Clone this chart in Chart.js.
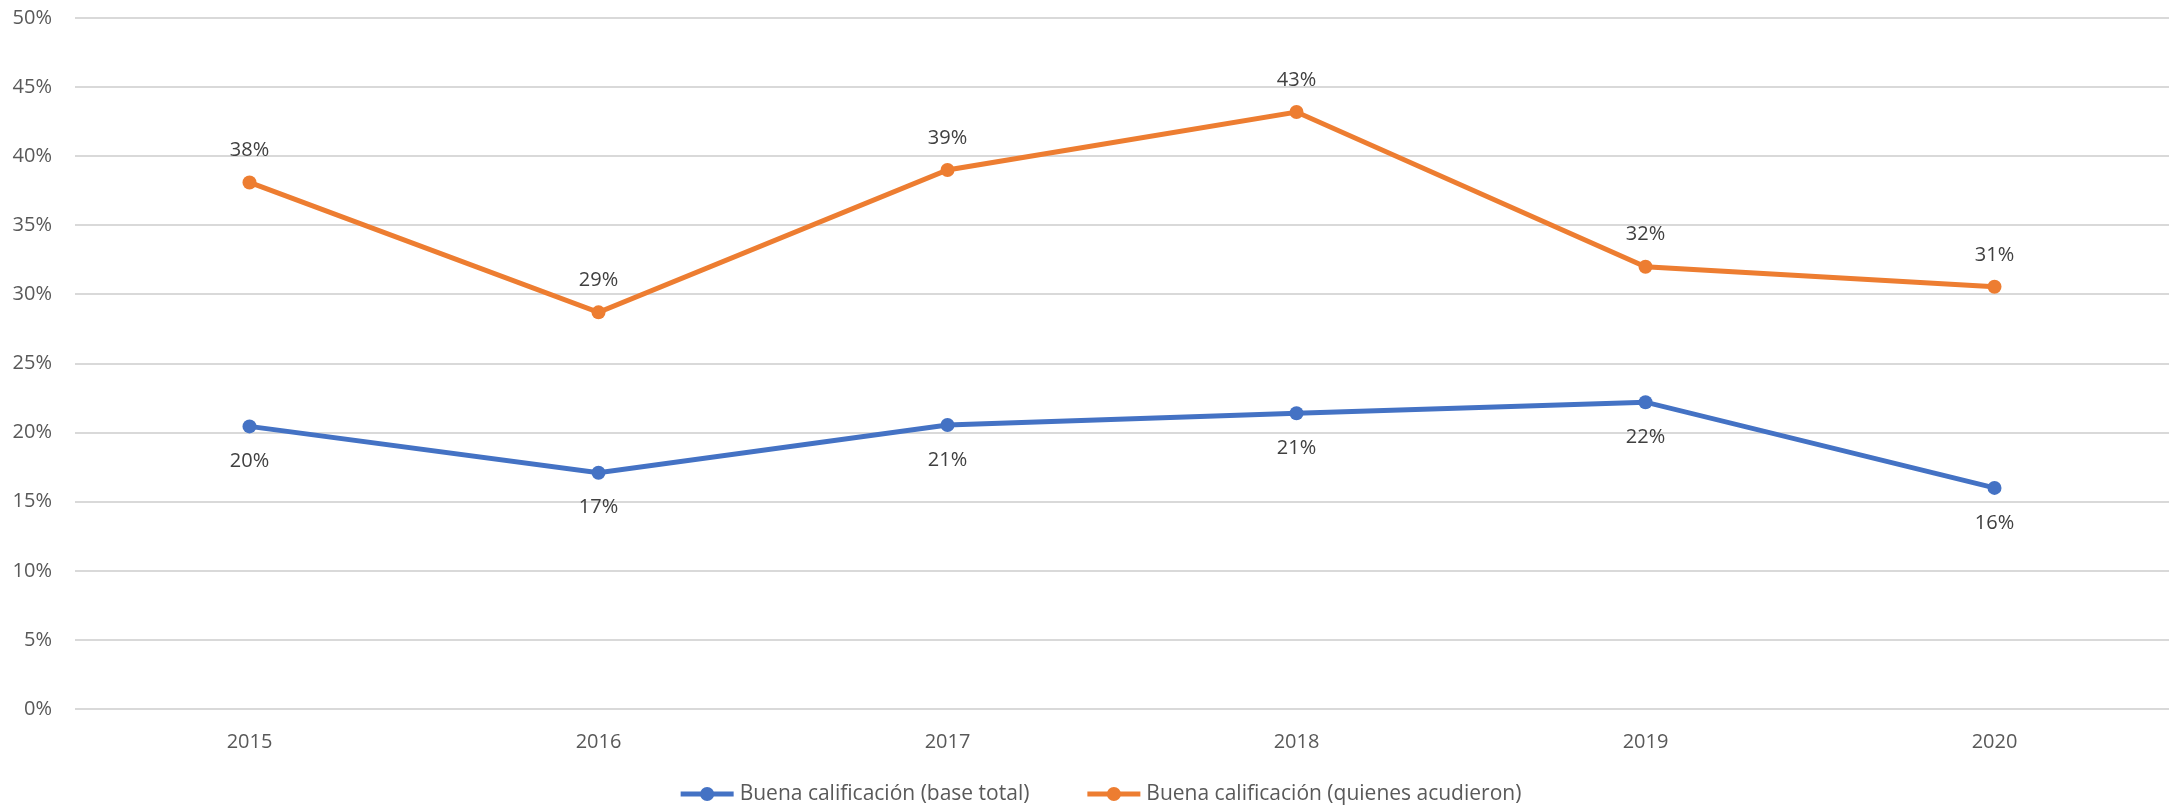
<!DOCTYPE html>
<html>
<head>
<meta charset="utf-8">
<script src="https://cdn.jsdelivr.net/npm/chart.js@4.4.1/dist/chart.umd.min.js"></script>
<style>
  html, body { margin: 0; padding: 0; background: #ffffff; }
  #wrap { width: 2169px; height: 806px; position: relative; }
</style>
</head>
<body>
<div id="wrap"><canvas id="c" width="2169" height="806"></canvas></div>
<script>
const categories = ['2015', '2016', '2017', '2018', '2019', '2020'];
const seriesNames = ['Buena calificación (base total)', 'Buena calificación (quienes acudieron)'];
const baseTotal = [20.45, 17.1, 20.55, 21.4, 22.2, 16.0];
const quienesAcudieron = [38.1, 28.7, 39.0, 43.2, 32.0, 30.55];
const yTicks = [0, 5, 10, 15, 20, 25, 30, 35, 40, 45, 50];

const FONT = '"Open Sans", "DejaVu Sans", sans-serif';
const BLUE = '#4472C4';
const ORANGE = '#ED7D31';

const dataLabels = {
  id: 'dataLabels',
  afterDatasetsDraw(chart, args, opts) {
    const ctx = chart.ctx;
    ctx.save();
    ctx.font = '20px ' + FONT;
    ctx.fillStyle = '#404040';
    ctx.textAlign = 'center';
    ctx.textBaseline = 'middle';
    chart.data.datasets.forEach((ds, i) => {
      const meta = chart.getDatasetMeta(i);
      const off = opts.offsets[i];
      meta.data.forEach((pt, j) => {
        const v = ds.data[j];
        ctx.fillText(Math.round(v) + '%', pt.x, pt.y + off);
      });
    });
    ctx.restore();
  }
};

const customLegend = {
  id: 'customLegend',
  afterDraw(chart, args, opts) {
    const ctx = chart.ctx;
    ctx.save();
    ctx.font = '21px ' + FONT;
    const lineLen = 53, gapText = 6, gapItem = 58;
    const items = chart.data.datasets.map(ds => ({
      label: ds.label, color: ds.borderColor, w: ctx.measureText(ds.label).width
    }));
    let total = 0;
    items.forEach((it, i) => { total += lineLen + gapText + it.w + (i < items.length - 1 ? gapItem : 0); });
    let x = opts.centerX - total / 2;
    const y = opts.y;
    items.forEach(it => {
      ctx.strokeStyle = it.color;
      ctx.lineWidth = 5;
      ctx.beginPath();
      ctx.moveTo(x, y);
      ctx.lineTo(x + lineLen, y);
      ctx.stroke();
      ctx.fillStyle = it.color;
      ctx.beginPath();
      ctx.arc(x + lineLen / 2, y, 7, 0, Math.PI * 2);
      ctx.fill();
      ctx.fillStyle = '#595959';
      ctx.textAlign = 'left';
      ctx.textBaseline = 'middle';
      ctx.fillText(it.label, x + lineLen + gapText, y);
      x += lineLen + gapText + it.w + gapItem;
    });
    ctx.restore();
  }
};

new Chart(document.getElementById('c'), {
  type: 'line',
  data: {
    labels: categories,
    datasets: [
      {
        label: seriesNames[0],
        data: baseTotal,
        borderColor: BLUE,
        backgroundColor: BLUE,
        borderWidth: 5,
        pointRadius: 7,
        pointHoverRadius: 7,
        pointBorderWidth: 0,
        tension: 0
      },
      {
        label: seriesNames[1],
        data: quienesAcudieron,
        borderColor: ORANGE,
        backgroundColor: ORANGE,
        borderWidth: 5,
        pointRadius: 7,
        pointHoverRadius: 7,
        pointBorderWidth: 0,
        tension: 0
      }
    ]
  },
  options: {
    responsive: false,
    animation: false,
    events: [],
    layout: { autoPadding: false, padding: { left: 12, right: 0, top: 18, bottom: 52 } },
    plugins: {
      legend: { display: false },
      tooltip: { enabled: false },
      dataLabels: { offsets: [35, -32] },
      customLegend: { centerX: 1101, y: 794 }
    },
    scales: {
      x: {
        offset: true,
        grid: { display: false, drawTicks: false },
        border: { display: false },
        ticks: { color: '#595959', font: { family: FONT, size: 20 }, padding: 21, maxRotation: 0 },
        afterFit(axis) { axis.height = 45; axis.paddingLeft = 0; axis.paddingRight = 0; }
      },
      y: {
        min: 0,
        max: 50,
        afterBuildTicks(axis) { axis.ticks = yTicks.map(v => ({ value: v })); },
        grid: { color: '#d9d9d9', lineWidth: 2, drawTicks: false },
        border: { display: false },
        ticks: {
          color: '#595959',
          font: { family: FONT, size: 20 },
          padding: 23,
          callback: v => v + '%'
        },
        afterFit(axis) { axis.width = 63; axis.paddingTop = 0; axis.paddingBottom = 0; }
      }
    }
  },
  plugins: [dataLabels, customLegend]
});
</script>
</body>
</html>
